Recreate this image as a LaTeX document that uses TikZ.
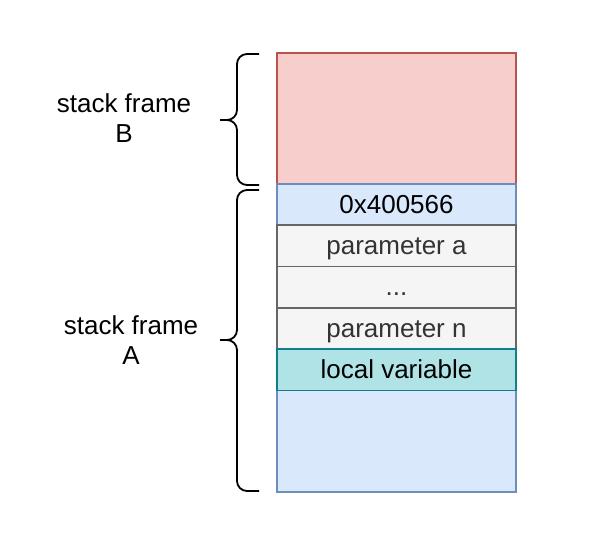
\documentclass[tikz,border=0pt]{standalone}
\usepackage{fontspec}
\setmainfont{Liberation Sans}
\usetikzlibrary{positioning}

\definecolor{redfill}{HTML}{F8CECC}
\definecolor{redline}{HTML}{B85450}
\definecolor{bluefill}{HTML}{DAE8FC}
\definecolor{blueline}{HTML}{6C8EBF}
\definecolor{grayfill}{HTML}{F5F5F5}
\definecolor{grayline}{HTML}{666666}
\definecolor{graytext}{HTML}{333333}
\definecolor{tealfill}{HTML}{B0E3E6}
\definecolor{tealline}{HTML}{0E8088}

\begin{document}
\begin{tikzpicture}[x=1pt,y=-1pt,
	cell/.style={line width=1.8pt, minimum width=239pt, inner sep=0pt, outer sep=0pt, font=\fontsize{26}{30}\selectfont},
	framered/.style={cell, draw=redline, fill=redfill, minimum height=131pt},
	frameblue/.style={cell, draw=blueline, fill=bluefill, minimum height=308pt},
	slot/.style={cell, minimum height=41.3pt, text height=20pt, text depth=3pt},
	paramslot/.style={slot, draw=grayline, fill=grayfill, text=graytext},
	localslot/.style={slot, draw=tealline, fill=tealfill},
	brace/.style={line width=1.8pt, rounded corners=10pt},
	frametext/.style={align=center, font=\fontsize{26}{30}\selectfont}]
	\useasboundingbox (0,0) rectangle (592,548);

	% stack frames
	\node[framered] (fb) at (396.5,118.5) {};
	\node[frameblue, below=0pt of fb] (fa) {};

	% slots of frame A
	\node[slot, below=0pt of fa.north] (ret) {0x400566};
	\node[paramslot, below=0pt of ret] (pa) {parameter a};
	\node[paramslot, below=0pt of pa] (pdots) {...};
	\node[paramslot, below=0pt of pdots] (pn) {parameter n};
	\node[localslot, below=0pt of pn] (lv) {local variable};

	% braces
	\coordinate (bTop) at (259,54);
	\coordinate (bBot) at (259,185);
	\coordinate (bTip) at (220,120);
	\draw[brace] (bTop) -| (237,120) -- (bTip);
	\draw[brace] (bBot) -| (237,120) -- (bTip);

	\coordinate (aTop) at (259,190);
	\coordinate (aBot) at (259,491);
	\coordinate (aTip) at (220,340);
	\draw[brace] (aTop) -| (237,340) -- (aTip);
	\draw[brace] (aBot) -| (237,340) -- (aTip);

	\node[frametext] (lblB) at (124,118) {stack frame\\B};
	\node[frametext] (lblA) at (131,340) {stack frame\\A};
\end{tikzpicture}
\end{document}
